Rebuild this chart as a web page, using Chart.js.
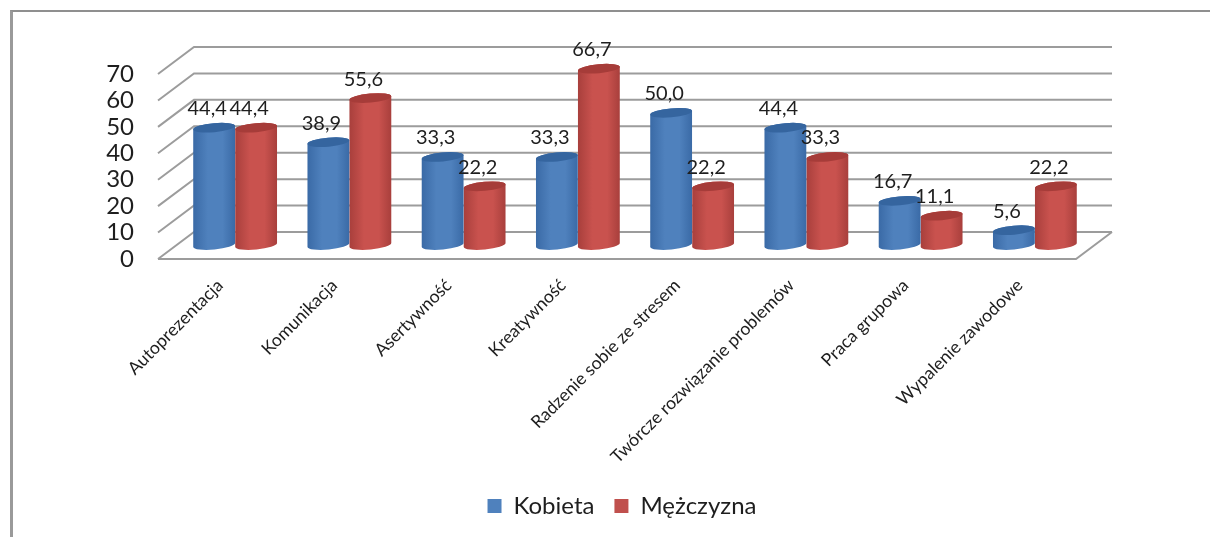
<!DOCTYPE html>
<html>
<head>
<meta charset="utf-8">
<title>Kobieta / Mężczyzna</title>
<script src="https://cdn.jsdelivr.net/npm/chart.js@4"></script>
<style>
  html, body { margin: 0; background: #fff; }
  #frame { position: absolute; left: 10px; top: 10px; width: 1200px; height: 527px; border-left: 3px solid #9a9a9a; border-top: 2px solid #8f8f8f; box-sizing: border-box; }
  #myChart { position: absolute; left: 0; top: 0; }
</style>
</head>
<body>
<div id="frame"></div>
<canvas id="myChart" width="1210" height="537"></canvas>
<script>
const categories = ['Autoprezentacja', 'Komunikacja', 'Asertywność', 'Kreatywność', 'Radzenie sobie ze stresem', 'Twórcze rozwiązanie problemów', 'Praca grupowa', 'Wypalenie zawodowe'];
const kobieta = [44.4, 38.9, 33.3, 33.3, 50.0, 44.4, 16.7, 5.6];
const mezczyzna = [44.4, 55.6, 22.2, 66.7, 22.2, 33.3, 11.1, 22.2];

const FONT = 'Lato';
const TEXT = '#1e1e1e';
const WALL = { dx: 36, dy: -27 };   // depth of the fake 3D box
const MID = { dx: 18, dy: -14 };    // the bars stand half way into it
const shades = {
  0: { edge: '#3a6aa6', mid: '#4f81bd', top: '#35659f' },
  1: { edge: '#a83f3c', mid: '#c9524e', top: '#a63c39' }
};

// back wall, left wall and floor
const wallPlugin = {
  id: 'wall',
  beforeDatasetsDraw(chart) {
    const { ctx, chartArea, scales } = chart;
    const left = chartArea.left, right = chartArea.right;
    ctx.save();
    ctx.lineWidth = 2;
    ctx.strokeStyle = '#9c9c9c';
    scales.y.ticks.forEach(t => {
      const y = scales.y.getPixelForValue(t.value);
      ctx.beginPath();
      ctx.moveTo(left - 2, y);
      ctx.lineTo(left + WALL.dx - 2, y + WALL.dy);
      ctx.lineTo(right + WALL.dx + 2, y + WALL.dy);
      ctx.stroke();
    });
    // floor front and right edge
    const y0 = scales.y.getPixelForValue(0);
    ctx.beginPath();
    ctx.moveTo(left - 2, y0);
    ctx.lineTo(right + 2, y0);
    ctx.lineTo(right + WALL.dx + 2, y0 + WALL.dy);
    ctx.stroke();
    ctx.restore();
  }
};

function drawCylinder(ctx, bar, c) {
  const cx = bar.x + MID.dx;
  const rx = bar.width / 2;
  const ry = 4.5;
  const rot = -0.09;
  const topY = bar.y + MID.dy;
  const baseY = bar.base + MID.dy;
  const grad = ctx.createLinearGradient(cx - rx, 0, cx + rx, 0);
  grad.addColorStop(0, c.edge);
  grad.addColorStop(0.35, c.mid);
  grad.addColorStop(0.7, c.mid);
  grad.addColorStop(1, c.edge);
  ctx.fillStyle = grad;
  ctx.beginPath();
  ctx.ellipse(cx, baseY, rx, ry, rot, 0, Math.PI);
  ctx.ellipse(cx, topY, rx, ry, rot, Math.PI, 2 * Math.PI);
  ctx.closePath();
  ctx.fill();
  ctx.fillStyle = c.top;
  ctx.beginPath();
  ctx.ellipse(cx, topY, rx, ry, rot, 0, 2 * Math.PI);
  ctx.fill();
}

// cylinders and value labels in place of the flat bars
const cylinderPlugin = {
  id: 'cylinders',
  beforeDatasetDraw(chart, args) {
    const { ctx } = chart;
    args.meta.data.forEach(bar => drawCylinder(ctx, bar, shades[args.index]));
    return false;
  },
  afterDatasetsDraw(chart) {
    const { ctx } = chart;
    ctx.save();
    ctx.font = '20px ' + FONT;
    ctx.fillStyle = TEXT;
    ctx.textAlign = 'center';
    ctx.textBaseline = 'middle';
    chart.data.datasets.forEach((ds, i) => {
      chart.getDatasetMeta(i).data.forEach((bar, j) => {
        const txt = ds.data[j].toFixed(1).replace('.', ',');
        ctx.fillText(txt, bar.x + MID.dx - 7, bar.y + MID.dy - 19);
      });
    });
    ctx.restore();
  }
};

// legend sits right of the canvas centre in the original
const legendShift = {
  id: 'legendShift',
  afterLayout(chart) {
    const l = chart.legend;
    l.left += 35;
    l.right += 35;
  }
};

new Chart(document.getElementById('myChart'), {
  type: 'bar',
  data: {
    labels: categories,
    datasets: [
      { label: 'Kobieta', data: kobieta, backgroundColor: '#4f81bd' },
      { label: 'Mężczyzna', data: mezczyzna, backgroundColor: '#c0504d' }
    ]
  },
  plugins: [wallPlugin, cylinderPlugin, legendShift],
  options: {
    responsive: false,
    animation: false,
    layout: { padding: { left: 100, right: 136, top: 74, bottom: 9 } },
    datasets: { bar: { categoryPercentage: 0.735, barPercentage: 1 } },
    plugins: {
      tooltip: { enabled: false },
      legend: {
        position: 'bottom',
        labels: { font: { family: FONT, size: 24 }, color: TEXT, boxWidth: 14, boxHeight: 14, padding: 20 }
      }
    },
    scales: {
      x: {
        grid: { display: false },
        border: { display: false },
        afterFit(scale) { scale.height = 215; },
        ticks: {
          font: { family: FONT, size: 17.6 },
          color: TEXT,
          autoSkip: false,
          minRotation: 45,
          maxRotation: 45,
          labelOffset: 3,
          padding: 8
        }
      },
      y: {
        min: 0,
        max: 70,
        grid: { display: false },
        border: { display: false },
        afterFit(scale) { scale.width = 60; },
        ticks: {
          stepSize: 10,
          autoSkip: false,
          font: { family: FONT, size: 24 },
          color: TEXT,
          padding: 18
        }
      }
    }
  }
});
</script>
</body>
</html>
